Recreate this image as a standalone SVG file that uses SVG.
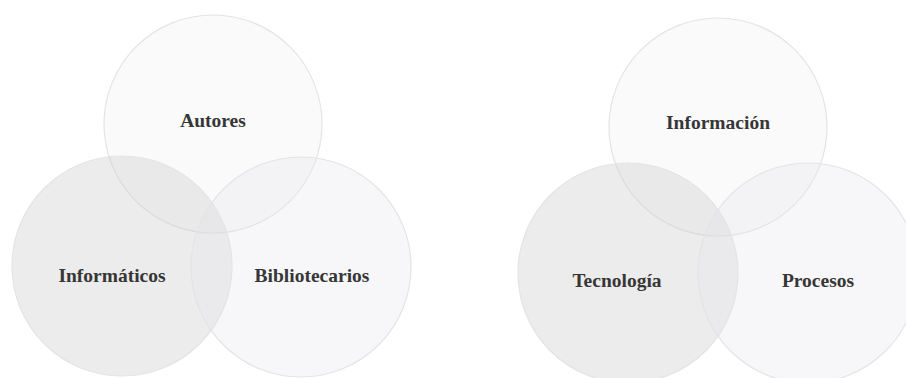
<svg xmlns="http://www.w3.org/2000/svg" width="906" height="378" viewBox="0 0 906 378">
<style>
.c{stroke:#e4e4e6;stroke-width:1.2}
.top{fill:#dadde2;fill-opacity:0.14}
.left{fill:#cacaca;fill-opacity:0.36}
.right{fill:#e4e4ec;fill-opacity:0.3}
.t{font-family:"Liberation Serif","DejaVu Serif",serif;font-weight:bold;font-size:19.5px;fill:#363636;text-anchor:middle}
</style>
<rect width="906" height="378" fill="#ffffff"/>
<g id="autores"><circle class="c top" cx="213" cy="124" r="109"/><text class="t" x="213" y="127">Autores</text></g>
<g id="informaticos"><circle class="c left" cx="122" cy="266" r="110"/><text class="t" x="112" y="282">Informáticos</text></g>
<g id="bibliotecarios"><circle class="c right" cx="301" cy="267" r="110"/><text class="t" x="312" y="282">Bibliotecarios</text></g>
<g id="informacion"><circle class="c top" cx="718" cy="127" r="109"/><text class="t" x="718" y="129">Información</text></g>
<g id="tecnologia"><circle class="c left" cx="628" cy="273" r="110"/><text class="t" x="617" y="287">Tecnología</text></g>
<g id="procesos"><circle class="c right" cx="808" cy="273" r="110"/><text class="t" x="818" y="287">Procesos</text></g>
<g id="connectors"></g>
</svg>
